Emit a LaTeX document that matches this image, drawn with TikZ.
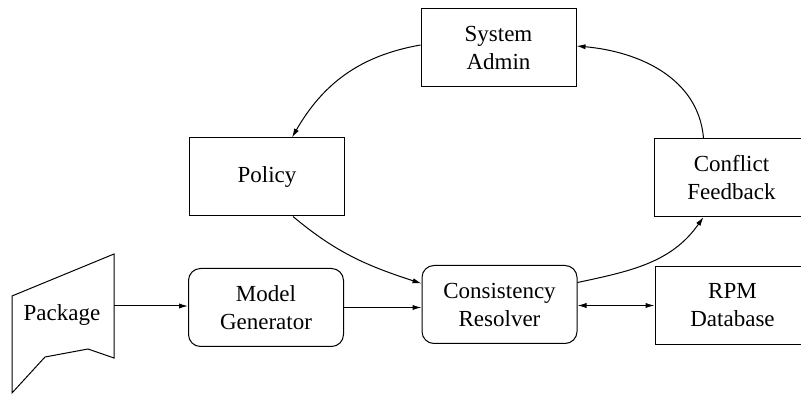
\documentclass[tikz,border=0pt]{standalone}
\usepackage{fontspec}
\setmainfont{Liberation Serif}
\newfontfamily\diagfont{Liberation Serif}
\usetikzlibrary{arrows.meta}

\tikzset{
	box/.style={draw, rectangle, minimum width=77.5pt, minimum height=39pt, inner sep=1pt, align=center, line width=0.5pt},
	roundbox/.style={box, rounded corners=6pt},
	link/.style={-{Latex[length=4.5pt,width=2.6pt]}, line width=0.5pt}
}

\begin{document}
\begin{tikzpicture}[x=0.5pt, y=-0.5pt, font=\diagfont\fontsize{11.5}{14}\selectfont]
					\useasboundingbox (0, 0) rectangle (801, 394);
					\node[box] (sys)at(498.5, 48) {System\\Admin};
					\node[box] (policy)at(267, 177) {Policy};
					\node[box] (conflict)at(731.5, 177.5) {Conflict\\Feedback};
					\node[roundbox] (model)at(266, 307.5) {Model\\Generator};
					\node[roundbox] (resolver)at(499.5, 304.5) {Consistency\\Resolver};
					\node[box] (rpm)at(732.5, 305.5) {RPM\\Database};
					% package document shape
					\draw[line width=0.5pt] (12, 296) -- (114, 254) -- (114, 358) -- (88, 349) -- (45, 357) -- (12, 393) -- cycle;
					\node (package)at(62, 315) {Package};
					\coordinate (pkgout) at (114, 306);
					\draw[link] (pkgout) -- (pkgout -| model.west);
					\draw[link] (model.east) -- (model.east -| resolver.west);
					\draw[link] ([xshift=13pt]policy.south) to[out=-40, in=162] ([yshift=10.5pt]resolver.west);
					\draw[link] ([yshift=11pt]resolver.east) to[out=12, in=-125] ([xshift=-14pt]conflict.south);
					\draw[link] ([xshift=-14pt]conflict.north) to[out=95, in=-5] ([yshift=1pt]sys.east);
					\draw[link] ([yshift=1.5pt]sys.west) to[out=190, in=60] ([xshift=12.5pt]policy.north);
					\draw[link, {Latex[length=4.5pt,width=2.6pt]}-{Latex[length=4.5pt,width=2.6pt]}] (resolver.east |- rpm.west) -- (rpm.west);
				\end{tikzpicture}
\end{document}
